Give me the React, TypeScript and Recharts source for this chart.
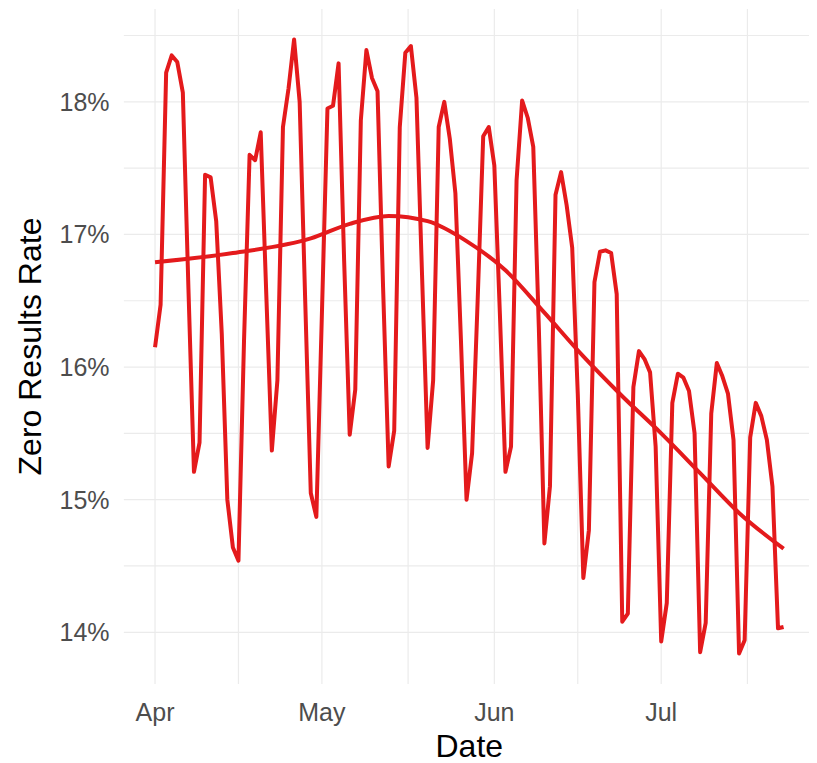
import React from "react";
import { ComposedChart, Line, XAxis, YAxis, ReferenceLine } from "recharts";

// Day offsets from 1 April (daily observations)
const zeroRate: number[] = [
  16.15, 16.47, 18.22, 18.35, 18.30, 18.07, 16.60, 15.21, 15.43,
  17.45, 17.43, 17.10, 16.25, 15.00, 14.64, 14.54,
  16.20, 17.60, 17.56, 17.77, 16.55, 15.37, 15.90,
  17.81, 18.10, 18.47, 18.00, 16.50, 15.05, 14.87,
  16.40, 17.95, 17.97, 18.29, 16.80, 15.49, 15.83,
  17.86, 18.39, 18.18, 18.08, 16.60, 15.25, 15.52,
  17.81, 18.37, 18.42, 18.03, 16.70, 15.39, 15.90,
  17.81, 18.00, 17.72, 17.31, 16.20, 15.00, 15.35,
  16.50, 17.74, 17.81, 17.52, 16.40, 15.21, 15.40,
  17.41, 18.01, 17.88, 17.66, 16.30, 14.67, 15.10,
  17.30, 17.47, 17.22, 16.90, 15.80, 14.41, 14.77,
  16.64, 16.87, 16.88, 16.86, 16.55, 14.08, 14.14,
  15.85, 16.12, 16.06, 15.96, 15.40, 13.93, 14.22,
  15.73, 15.95, 15.92, 15.82, 15.50, 13.85, 14.07,
  15.65, 16.03, 15.93, 15.80, 15.45, 13.84, 13.94,
  15.47, 15.73, 15.63, 15.45, 15.10, 14.03, 14.04,
];
const dayIndex: number[] = zeroRate.map((_, i) => i);

// Smoothed trend read at selected days
const trendDays: number[] = [0, 14, 28, 35, 42, 49, 56, 63, 70, 77, 84, 91, 98, 105, 113];
const trendValues: number[] = [16.79, 16.86, 16.97, 17.08, 17.14, 17.10, 16.95, 16.73, 16.41, 16.08, 15.78, 15.50, 15.20, 14.90, 14.63];

// Axis ticks
const monthTickDays: number[] = [0, 30, 61, 91];
const monthLabels: string[] = ["Apr", "May", "Jun", "Jul"];
const minorTickDays: number[] = [15, 45.5, 76, 106.5];
const yTicks: number[] = [14, 15, 16, 17, 18];
const yMinorTicks: number[] = [14.5, 15.5, 16.5, 17.5, 18.5];

const data = dayIndex.map((d, i) => {
  const ti = trendDays.indexOf(d);
  return { d, rate: zeroRate[i], trend: ti >= 0 ? trendValues[ti] : null };
});

const RED = "#e41a1c";
const GRID = "#ebebeb";
const FONT = "'Liberation Sans', Arial, sans-serif";

export default function App() {
  return (
    <div style={{ width: 809, height: 755, background: "#fff", fontFamily: FONT }}>
      <ComposedChart
        width={809}
        height={755}
        data={data}
        margin={{ top: 1, right: 2, bottom: 0, left: 0 }}
      >
        {[...yMinorTicks, ...yTicks].map((v) => (
          <ReferenceLine key={"h" + v} y={v} stroke={GRID} strokeWidth={1.2} ifOverflow="hidden" />
        ))}
        {[...minorTickDays, ...monthTickDays].map((v) => (
          <ReferenceLine key={"v" + v} x={v} stroke={GRID} strokeWidth={1.2} ifOverflow="hidden" />
        ))}
        <XAxis
          dataKey="d"
          type="number"
          domain={[-5.65, 118.65]}
          ticks={monthTickDays}
          tickFormatter={(v: number) => monthLabels[monthTickDays.indexOf(v)] ?? ""}
          axisLine={false}
          tickLine={false}
          tickSize={0}
          tickMargin={19}
          height={79}
          tick={{ fill: "#4d4d4d", fontSize: 25, fontFamily: FONT }}
          label={{ value: "Date", position: "insideBottom", offset: 6, fontSize: 32, fill: "#000", fontFamily: FONT }}
        />
        <YAxis
          type="number"
          domain={[13.61, 18.7]}
          ticks={yTicks}
          tickFormatter={(v: number) => `${v}%`}
          axisLine={false}
          tickLine={false}
          tickSize={0}
          tickMargin={14}
          width={115.6}
          tick={{ fill: "#4d4d4d", fontSize: 25, fontFamily: FONT }}
          label={{
            value: "Zero Results Rate",
            angle: -90,
            position: "insideLeft",
            offset: 22,
            fontSize: 32,
            fill: "#000",
            fontFamily: FONT,
            style: { textAnchor: "middle" },
          }}
        />
        <Line
          dataKey="rate"
          type="linear"
          stroke={RED}
          strokeWidth={4}
          dot={false}
          isAnimationActive={false}
          strokeLinejoin="round"
        />
        <Line
          dataKey="trend"
          type="monotone"
          connectNulls
          stroke={RED}
          strokeWidth={4}
          dot={false}
          isAnimationActive={false}
        />
      </ComposedChart>
    </div>
  );
}
